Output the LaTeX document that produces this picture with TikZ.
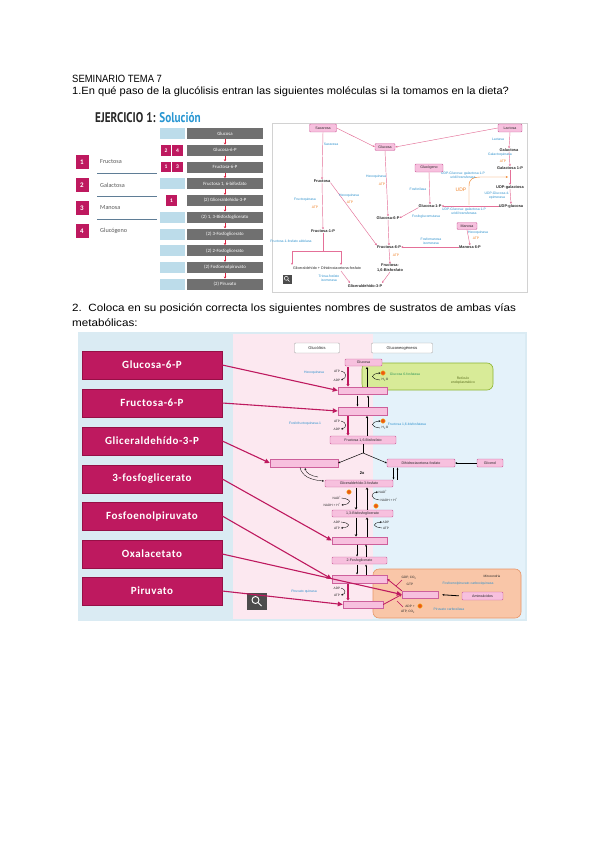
\documentclass[tikz,border=0pt]{standalone}
\usepackage{fontspec}
\setmainfont{Liberation Sans}
\newfontfamily\calfont{Carlito}
\newfontfamily\calsp[LetterSpace=5]{Carlito}
\newfontfamily\ptfont{PT Sans}
\usetikzlibrary{arrows.meta,calc}
\definecolor{mag}{RGB}{190,25,95}
\definecolor{magd}{RGB}{150,15,70}
\definecolor{pinkf}{RGB}{247,192,222}
\definecolor{pinkd}{RGB}{205,95,155}
\definecolor{greyb}{RGB}{112,112,112}
\definecolor{lblue}{RGB}{188,220,234}
\definecolor{bgblue}{RGB}{218,235,243}
\definecolor{bgpink}{RGB}{252,232,240}
\definecolor{bgblue2}{RGB}{228,242,250}
\definecolor{gfill}{RGB}{216,235,152}
\definecolor{gdraw}{RGB}{140,180,50}
\definecolor{ofill}{RGB}{249,198,168}
\definecolor{odraw}{RGB}{232,150,105}
\definecolor{enz}{RGB}{45,145,205}
\definecolor{atpc}{RGB}{240,130,40}
\definecolor{dotc}{RGB}{235,90,20}
\definecolor{solblue}{RGB}{40,150,210}
\definecolor{darkt}{RGB}{40,40,40}
\definecolor{linec}{RGB}{95,125,150}
\definecolor{redar}{RGB}{220,30,60}
\definecolor{parrc}{RGB}{228,112,152}
\definecolor{greent}{RGB}{50,150,90}
\definecolor{olivet}{RGB}{90,110,30}
\tikzset{
 tiny/.style={font=\fontsize{3.4}{3.9}\selectfont, inner sep=0pt, align=center},
 enzl/.style={tiny, text=enz},
 atpl/.style={tiny, text=atpc},
 met/.style={font=\bfseries\fontsize{3.9}{4.4}\selectfont, inner sep=0pt, align=center, text=darkt},
 pbox/.style={draw=pinkd, fill=pinkf, line width=0.45pt, rounded corners=1pt, inner sep=0pt, font=\fontsize{3.6}{4}\selectfont, text=darkt},
 ebox/.style={draw=pinkd, fill=pinkf, line width=0.45pt, inner sep=0pt},
 gbox/.style={fill=greyb, text=white, font=\calfont\fontsize{4.8}{5}\selectfont, minimum width=76pt, minimum height=11pt, inner sep=0pt},
 bbox/.style={fill=lblue, minimum width=25pt, minimum height=11pt, inner sep=0pt},
 msq/.style={fill=mag, text=white, font=\calfont\bfseries\fontsize{5.5}{6}\selectfont, inner sep=0pt, minimum width=10.5pt, minimum height=10.5pt},
 lsq/.style={fill=mag, text=white, font=\calfont\bfseries\fontsize{7}{7}\selectfont, inner sep=0pt, minimum width=13pt, minimum height=14pt},
 litem/.style={anchor=west, text=gray!70!black, font=\calfont\fontsize{6.2}{7}\selectfont, inner sep=0pt},
 magbox/.style={fill=mag, draw=magd, line width=0.6pt, text=white, font=\calsp\bfseries\fontsize{11}{12}\selectfont, minimum width=140pt, minimum height=28pt, inner sep=0pt},
 marr/.style={draw=mag, line width=1.1pt, -{Triangle[length=5pt,width=4.5pt]}},
 karr/.style={-{Stealth[length=2pt,width=1.8pt]}, line width=0.35pt},
 parr/.style={draw=parrc, -{Stealth[length=2.2pt,width=2pt]}, line width=0.45pt},
 kbar/.style={line width=1pt, -{Stealth[length=2.2pt,width=2.6pt]}},
 mbar/.style={draw=mag, line width=1.3pt, -{Stealth[length=2.4pt,width=3pt]}},
 odot/.style={circle, fill=dotc, draw=atpc!60!yellow, line width=0.4pt, minimum size=4.5pt, inner sep=0pt},
 sub/.style={font=\fontsize{3.2}{3.6}\selectfont, inner sep=0pt, text=darkt},
 maintext/.style={anchor=base west, inner sep=0pt, font=\fontsize{10.5}{12}\selectfont, text=black},
}
\begin{document}
\begin{tikzpicture}[x=1pt,y=-1pt]
\useasboundingbox (0,0) rectangle (600,848);
\fill[white] (0,0) rectangle (600,848);

% ---------- texts ----------
\node[maintext] (t1) at (72,83) {\scalebox{0.9}[1]{SEMINARIO TEMA 7}};
\node[maintext] (t2) at (72,95) {\scalebox{1.057}[1]{1.En qué paso de la glucólisis entran las siguientes moléculas si la tomamos en la dieta?}};
\node[maintext] (t3) at (72,311) {\scalebox{1.11}[1]{2.\ \ Coloca en su posición correcta los siguientes nombres de sustratos de ambas vías}};
\node[maintext] (t4) at (72,326) {\scalebox{1.11}[1]{metabólicas:}};

% ---------- exercise 1 ----------
\node[anchor=base west, inner sep=0pt, text=darkt] (ej) at (95,122)
  {\scalebox{0.8}[1]{\ptfont\bfseries\fontsize{14}{14}\selectfont EJERCICIO 1: \textcolor{solblue}{Solución}}};

\foreach \n/\y/\t in {1/162/Fructosa, 2/185/Galactosa, 3/208/Manosa, 4/231/Glucógeno} {
  \node[lsq] (sq\n) at (82,\y) {\n};
  \node[litem] (it\n) at (100,\y) {\t};
}
\foreach \y in {173.5,196,219} \draw[linec, line width=0.8pt] (97,\y) -- (157,\y);

\foreach \i/\t in {1/Glucosa, 2/Glucosa-6-P, 3/Fructosa-6-P, 4/{Fructosa 1, 6-bifosfato}, 5/{(2) Gliceraldehído-3-P}, 6/{(2) 1, 3-Bisfosfoglicerato}, 7/{(2) 3-Fosfoglicerato}, 8/{(2) 2-Fosfoglicerato}, 9/{(2) Fosfoenolpiruvato}, 10/{(2) Piruvato}}
  \node[gbox] (g\i) at (225,{133.5+16.75*(\i-1)}) {\t};
\foreach \i in {1,4,6,7,8,9,10}
  \node[bbox] (b\i) at (172.5,{133.5+16.75*(\i-1)}) {};
\node[msq] (s2a) at (166,150.25) {2};
\node[msq] (s2b) at (177.5,150.25) {4};
\node[msq] (s3a) at (166,167) {1};
\node[msq] (s3b) at (177.5,167) {3};
\node[msq] (s5) at (171.5,200.5) {1};
\foreach \i [count=\j from 2] in {1,...,9}
  \draw[redar, line width=0.6pt, -{Stealth[length=2pt,width=2.5pt]}] (g\i.south) -- (g\j.north);

% right panel
\draw[gray!35, line width=0.8pt] (272,123) rectangle (527,292);
\node[pbox, minimum width=27pt, minimum height=8pt] (sac) at (323,128) {Sacarosa};
\node[pbox, minimum width=20pt, minimum height=7pt] (glc) at (385,147) {Glucosa};
\node[pbox, minimum width=24pt, minimum height=8pt] (lac) at (510,128) {Lactosa};
\node[met] (fru) at (322,181) {Fructosa};
\node[met] (f1p) at (323,231) {Fructosa-1-P};
\node[met] (g6p) at (388,218) {Glucosa-6-P};
\node[met] (f6p) at (389,247) {Fructosa-6-P};
\node[met] (f16) at (390,268) {Fructosa-\\1,6-Bisfosfato};
\node[font=\fontsize{3.7}{4}\selectfont, inner sep=0pt, text=darkt] (gdh) at (327,268) {Gliceraldehído + Dihidroxiacetona-fosfato};
\node[met] (g3p) at (365,286) {Gliceraldehído-3-P};
\node[met] (gal) at (509,150) {Galactosa};
\node[met] (gal1p) at (510,168) {Galactosa 1-P};
\node[pbox, minimum width=28pt, minimum height=8pt] (glyc) at (429,168) {Glucógeno};
\node[met] (g1p) at (430,206) {Glucosa-1-P};
\node[met] (udpgal) at (510,187) {UDP-galactosa};
\node[met] (udpglc) at (511,206) {UDP-glucosa};
\node[pbox, minimum width=20pt, minimum height=7pt] (man) at (467,226) {Manosa};
\node[met] (man6p) at (470,247) {Manosa 6-P};

\draw[parr] (sac.east) -- (glc.west);
\draw[parr] (lac.west) -- (glc.east);
\draw[parr] (sac.south) -- (fru.north);
\draw[parr] (fru.south) -- (f1p.north);
\draw[parr] (fru.south east) -- (f6p.north west);
\draw[parr] (glc.south) -- (g6p.north);
\draw[parr] (g6p.south) -- (f6p.north);
\draw[parr] (f6p.south) -- (f16.north);
\draw[parrc, line width=0.45pt] (f1p.south) -- (323,251) (292,251) -- (341,251);
\draw[parr] (292,251) -- (292,265);
\draw[parr] (341,251) -- (341,265);
\draw[parr] (341,271) -- (350,283);
\draw[parr] (f16.south) -- (382,283);
\draw[parr] (lac.south) -- (gal.north);
\draw[parr] (gal.south) -- (gal1p.north);
\draw[parr] (gal1p.south) -- (udpgal.north);
\draw[parr] (udpgal.south) -- (udpglc.north);
\draw[parr] (udpglc.west) -- (g1p.east);
\draw[parr] (glyc.south) -- (g1p.north);
\draw[parr] (g1p.south west) -- (g6p.east);
\draw[parr] (man.south) -- (man6p.north);
\draw[parr] (man6p.west) -- (f6p.east);
\draw[atpc, line width=0.45pt, -{Stealth[length=2.2pt,width=2pt]}] (469,205) -- (469,186) .. controls (469,179) and (473,177) .. (480,177) -- (508,177);

\node[enzl] (l1) at (331,144) {Sacarasa};
\node[enzl] (l2) at (305,200) {Fructoquinasa};
\node[atpl] (l3) at (315,207) {ATP};
\node[enzl] (l4) at (349,196) {Hexoquinasa};
\node[atpl] (l5) at (350,202) {ATP};
\node[enzl] (l6) at (376,177) {Hexoquinasa};
\node[atpl] (l7) at (382,184) {ATP};
\node[atpl] (l8) at (396,255) {ATP};
\node[enzl] (l9) at (291,241) {Fructosa-1-fosfato aldolasa};
\node[enzl] (l10) at (329,278) {Triosa-fosfato\\isomerasa};
\node[enzl] (l11) at (498,139) {Lactasa};
\node[enzl] (l12) at (500,155) {Galactoquinasa};
\node[atpl] (l13) at (503,161) {ATP};
\node[enzl] (l14) at (418,189) {Fosforilasa};
\node[enzl] (l15) at (463,175) {UDP-Glucosa: galactosa 1-P\\uridil transferasa};
\node[text=atpc, font=\fontsize{5}{5}\selectfont, inner sep=0pt] (l16) at (461,190) {UDP};
\node[enzl] (l17) at (497,196) {UDP-Glucosa 4-\\epimerasa};
\node[enzl] (l18) at (464,211) {UDP-Glucosa: galactosa 1-P\\uridil transferasa};
\node[enzl] (l19) at (426,217) {Fosfoglucomutasa};
\node[enzl] (l20) at (478,233) {Hexoquinasa};
\node[atpl] (l21) at (476,238) {ATP};
\node[enzl] (l22) at (431,241) {Fosfomanosa\\isomerasa};

\node[fill=gray!60!black, minimum width=9pt, minimum height=9pt, inner sep=0pt] (mg1) at (287,279) {};
\draw[white, line width=0.5pt] (286.3,278.3) circle (2pt) (287.8,279.8) -- (289.5,281.5);

% ---------- exercise 2 ----------
\fill[bgblue] (78,332) rectangle (527,621);
\fill[bgpink] (233,334) rectangle (373,619);
\fill[bgblue2] (373,334) rectangle (525,619);

\foreach \n/\y/\t in {1/365/Glucosa-6-P, 2/403/Fructosa-6-P, 3/441/Gliceraldehído-3-P, 4/479/3-fosfoglicerato, 5/516/Fosfoenolpiruvato, 6/554/Oxalacetato, 7/591/Piruvato}
  \node[magbox] (m\n) at (152,\y) {\t};

\node[draw=gray!70, fill=white, rounded corners=1pt, minimum width=45pt, minimum height=10pt, inner sep=0pt, font=\fontsize{4}{4}\selectfont, text=darkt] (hg) at (317,348) {Glucólisis};
\node[draw=gray!70, fill=white, rounded corners=1pt, minimum width=61pt, minimum height=10pt, inner sep=0pt, font=\fontsize{4}{4}\selectfont, text=darkt] (hgn) at (402,348) {Gluconeogénesis};

\node[draw=gdraw, fill=gfill, line width=0.6pt, rounded corners=6pt, minimum width=131pt, minimum height=27pt, inner sep=0pt] (er) at (427.5,376.5) {};
\draw[odraw, fill=ofill, line width=0.6pt, rounded corners=6pt] (373,569) rectangle (521,618);

\node[pbox, minimum width=37pt, minimum height=7pt] (eglc) at (363.5,362.5) {Glucosa};
\node[ebox, minimum width=49pt, minimum height=7pt] (e1) at (362.5,390.5) {};
\node[ebox, minimum width=49pt, minimum height=8pt] (e2) at (362.5,411) {};
\node[pbox, minimum width=66pt, minimum height=8pt] (f16b) at (363,440) {Fructosa 1,6-Bisfosfato};
\node[ebox, minimum width=68pt, minimum height=8pt] (e3) at (304,463) {};
\node[pbox, minimum width=68pt, minimum height=8pt] (dhap2) at (421,463) {Dihidroxiacetona-fosfato};
\node[pbox, minimum width=26pt, minimum height=8pt] (glyl) at (490,463) {Glicerol};
\node[pbox, minimum width=68pt, minimum height=7pt] (g3pb) at (359,483.5) {Gliceraldehído-3-fosfato};
\node[pbox, minimum width=61pt, minimum height=7pt] (bpg) at (362.5,513.5) {1,3-Bisfosfoglicerato};
\node[ebox, minimum width=55pt, minimum height=7pt] (e4) at (359.5,540.5) {};
\node[pbox, minimum width=55pt, minimum height=7pt] (pg2) at (359.5,560.5) {2-Fosfoglicerato};
\node[ebox, minimum width=55pt, minimum height=8pt] (e5) at (359.5,579) {};
\node[ebox, minimum width=40pt, minimum height=7pt] (e6) at (363,604.5) {};
\node[ebox, minimum width=36pt, minimum height=7pt] (e7) at (420,594.5) {};
\node[pbox, minimum width=41pt, minimum height=8pt] (amino) at (482.5,596) {Aminoácidos};

% labels
\node[enzl] (h1) at (314,373) {Hexoquinasa};
\node[tiny, text=greent] (h2) at (405,374) {Glucosa 6-fosfatasa};
\node[tiny, text=olivet] (h3) at (463,381) {Retículo\\endoplasmático};
\node[enzl] (h4) at (305,424) {Fosfofructoquinasa-1};
\node[enzl] (h5) at (407,424) {Fructosa 1,6-bisfosfatasa};
\node[enzl] (h6) at (304,592) {Piruvato quinasa};
\node[enzl] (h7) at (468,584) {Fosfoenolpiruvato carboxiquinasa};
\node[enzl] (h8) at (449,609) {Piruvato carboxilasa};
\node[sub] (h9) at (492,576) {Mitocondria};

% step 1
\draw[mbar] (348,367) -- (348,386.5);
\draw[kbar] (367,386.5) -- (367,367);
\node[sub] (a1) at (337,371) {ATP};
\node[sub] (a2) at (337,380) {ADP};
\draw[karr] (341,371) .. controls (347,372) and (347,378) .. (341,380);
\node[odot] (d1) at (383,373) {};
\node[sub] (w1) at (385,380) {H\textsubscript{2}O};
\draw[karr] (380,380) .. controls (370,379) and (370,374) .. (380.5,373);
% e1 - e2
\draw[karr, line width=0.8pt] (357.5,395.5) -- (357.5,406.5);
\draw[karr, line width=0.8pt] (368,406.5) -- (368,395.5);
% step PFK
\draw[mbar] (348,416) -- (348,435.5);
\draw[kbar] (367,435.5) -- (367,416);
\node[sub] (a3) at (337,421) {ATP};
\node[sub] (a4) at (337,429) {ADP};
\draw[karr] (341,421) .. controls (347,422) and (347,428) .. (341,429);
\node[odot] (d2) at (383,421) {};
\node[sub] (w2) at (385,428) {H\textsubscript{2}O};
\draw[karr] (380,428) .. controls (370,427) and (370,422) .. (380.5,421);
% split
\draw[line width=0.5pt] (f16b.south) -- (363,453);
\draw[karr, line width=0.5pt] (363,453) -- (e3.east);
\draw[karr, line width=0.5pt] (363,453) -- (dhap2.west);
\node[font=\bfseries\fontsize{4}{4}\selectfont, inner sep=0pt] (x2) at (362,473) {2x};
\draw[karr, line width=0.7pt] (393.5,467.5) -- (393.5,479.5);
\draw[karr, line width=0.7pt] (397.5,479.5) -- (397.5,467.5);
\draw[karr] (300,467.5) .. controls (302,476) and (310,480) .. (324,481);
\draw[karr] (318,477) .. controls (311,476) and (306,473) .. (305,468);
\draw[karr, line width=0.8pt] (glyl.west) -- (dhap2.east);
% G3PDH
\draw[kbar] (356,487.5) -- (356,509.5);
\draw[kbar] (367,509.5) -- (367,487.5);
\node[odot] (d3) at (349,492) {};
\node[sub] (n1) at (337,498) {NAD\textsuperscript{+}};
\node[sub] (n2) at (332,505) {NADH + H\textsuperscript{+}};
\draw[karr] (341.5,498) .. controls (352,499) and (352,504) .. (341.5,505);
\node[odot] (d4) at (376,506) {};
\node[sub] (n3) at (383,492) {NAD\textsuperscript{+}};
\node[sub] (n4) at (389,500) {NADH + H\textsuperscript{+}};
\draw[karr] (379.5,500) .. controls (370,499) and (370,493) .. (378,492);
% PGK
\draw[kbar] (356,517.5) -- (356,536.5);
\draw[kbar] (367,536.5) -- (367,517.5);
\node[sub] (a5) at (337,522) {ADP};
\node[sub] (a6) at (337,528) {ATP};
\draw[karr] (341,522) .. controls (351,523) and (351,527) .. (341,528);
\node[sub] (a7) at (386,522) {ADP};
\node[sub] (a8) at (386,528) {ATP};
\draw[karr] (382,528) .. controls (372,527) and (372,523) .. (382,522);
% PGM / enolase
\draw[karr, line width=0.8pt] (357,544.5) -- (357,556.5);
\draw[karr, line width=0.8pt] (366,556.5) -- (366,544.5);
\draw[karr, line width=0.8pt] (357,564.5) -- (357,574.5);
\draw[karr, line width=0.8pt] (366,574.5) -- (366,564.5);
% PK
\draw[mbar] (348,583.5) -- (348,600.5);
\node[sub] (a9) at (337,588) {ADP};
\node[sub] (a10) at (337,595) {ATP};
\draw[karr] (341,588) .. controls (346,589) and (346,594) .. (341,595);
% mitochondria
\draw[mag, line width=0.8pt, -{Stealth[length=2.5pt,width=2.5pt]}] (e6.east) -- (e7.west);
\draw[mag, line width=0.8pt, -{Stealth[length=2.5pt,width=2.5pt]}] (e7.north west) -- (e5.east);
\draw[mag, line width=0.5pt] (396,586) -- (402,580);
\draw[mag, line width=0.5pt] (397,601) -- (403,607);
\node[sub] (c1) at (409,578) {GDP, CO\textsubscript{2}};
\node[sub] (c2) at (410,584) {GTP};
\node[sub] (c3) at (410,606) {ADP +};
\node[odot] (d5) at (420,606) {};
\node[sub] (c4) at (408,612) {ATP, CO\textsubscript{2}};
\draw[karr, line width=0.8pt, shorten >=4pt, shorten <=3pt] (amino.west) -- (e7.east);

\node[fill=gray!60!black, minimum width=20pt, minimum height=17pt, inner sep=0pt] (mg2) at (257,601.5) {};
\draw[white, line width=0.9pt] (255.5,600) circle (3.5pt) (258,602.5) -- (261.5,606);

% magenta arrows
\draw[marr] (m1.east) -- (e1.west);
\draw[marr] (m2.east) -- (e2.west);
\draw[marr] (m3.east) -- (e3.west);
\draw[marr] (m4.east) -- (e4.west);
\draw[marr] (m5.east) -- (e5.west);
\draw[marr] (m6.east) -- (e7.west);
\draw[marr] (m7.east) -- (e6.west);
\end{tikzpicture}
\end{document}
